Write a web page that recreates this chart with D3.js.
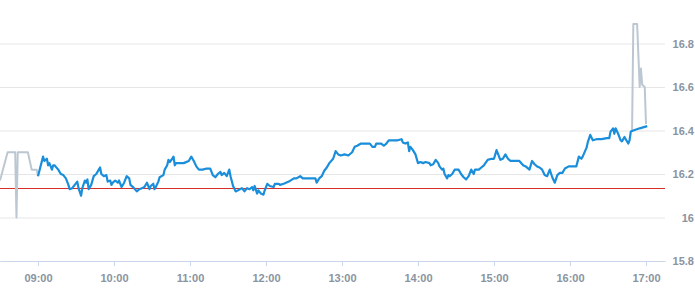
<!DOCTYPE html>
<html>
<head>
<meta charset="utf-8">
<script src="https://cdn.jsdelivr.net/npm/d3@7/dist/d3.min.js"></script>
<style>
  html, body { margin: 0; padding: 0; background: #fff; }
  svg { display: block; font-family: "Open Sans", sans-serif; }
  .axis text { fill: #8a949f; font-size: 11px; font-weight: 600; }
</style>
</head>
<body>
<svg id="chart" width="695" height="300"></svg>
<script>
/* global d3 */
// pre-market print before 09:00 (grey)
var preSeries = [
  ["08:30", 16.17], ["08:36", 16.30], ["08:42", 16.30], ["08:43", 16.00],
  ["08:44", 16.30], ["08:52", 16.30], ["08:55", 16.22], ["08:59", 16.22],
  ["09:00", 16.19]
];

// closing auction spike (grey)
var postSeries = [
  ["16:49", 16.40], ["16:50", 16.89], ["16:53", 16.89], ["16:55", 16.60],
  ["16:56", 16.685], ["16:57", 16.61], ["16:59", 16.60], ["17:00", 16.43]
];

// main session (blue)
var mainSeries = [
  ["09:00", 16.19], ["09:04", 16.28], ["09:05", 16.26], ["09:07", 16.27],
  ["09:08", 16.24], ["09:09", 16.25], ["09:11", 16.22], ["09:12", 16.24],
  ["09:13", 16.24], ["09:16", 16.22], ["09:18", 16.20], ["09:20", 16.195],
  ["09:22", 16.18], ["09:24", 16.15], ["09:25", 16.13], ["09:27", 16.135],
  ["09:29", 16.15], ["09:31", 16.165], ["09:32", 16.135], ["09:34", 16.10],
  ["09:35", 16.135], ["09:37", 16.17], ["09:38", 16.16], ["09:39", 16.175],
  ["09:40", 16.13], ["09:42", 16.15], ["09:44", 16.19], ["09:46", 16.20],
  ["09:48", 16.22], ["09:49", 16.23], ["09:50", 16.20], ["09:52", 16.19],
  ["09:54", 16.195], ["09:55", 16.165], ["09:57", 16.17], ["09:58", 16.15],
  ["09:59", 16.16], ["10:01", 16.17], ["10:03", 16.16], ["10:04", 16.17],
  ["10:06", 16.14], ["10:08", 16.16], ["10:10", 16.19], ["10:12", 16.18],
  ["10:13", 16.15], ["10:15", 16.14], ["10:18", 16.12], ["10:20", 16.13],
  ["10:22", 16.135], ["10:24", 16.14], ["10:26", 16.16], ["10:28", 16.13],
  ["10:29", 16.145], ["10:31", 16.155], ["10:32", 16.13], ["10:33", 16.14],
  ["10:35", 16.165], ["10:36", 16.185], ["10:39", 16.195], ["10:40", 16.22],
  ["10:42", 16.24], ["10:43", 16.265], ["10:44", 16.255], ["10:46", 16.27],
  ["10:47", 16.28], ["10:48", 16.24], ["10:49", 16.25], ["10:51", 16.25],
  ["10:55", 16.25], ["10:59", 16.26], ["11:01", 16.28], ["11:03", 16.26],
  ["11:05", 16.235], ["11:07", 16.22], ["11:10", 16.22], ["11:13", 16.225],
  ["11:16", 16.225], ["11:18", 16.195], ["11:20", 16.185], ["11:22", 16.20],
  ["11:24", 16.21], ["11:25", 16.195], ["11:27", 16.205], ["11:29", 16.19],
  ["11:31", 16.22], ["11:32", 16.19], ["11:34", 16.145], ["11:36", 16.12],
  ["11:38", 16.125], ["11:41", 16.135], ["11:43", 16.12], ["11:45", 16.135],
  ["11:47", 16.13], ["11:49", 16.14], ["11:50", 16.125], ["11:51", 16.145],
  ["11:53", 16.11], ["11:54", 16.125], ["11:56", 16.11], ["11:58", 16.105],
  ["11:59", 16.125], ["12:01", 16.155], ["12:03", 16.145], ["12:06", 16.14],
  ["12:07", 16.155], ["12:10", 16.155], ["12:11", 16.15], ["12:14", 16.155],
  ["12:18", 16.165], ["12:22", 16.18], ["12:24", 16.18], ["12:27", 16.19],
  ["12:29", 16.18], ["12:32", 16.18], ["12:36", 16.18], ["12:39", 16.18],
  ["12:40", 16.16], ["12:42", 16.18], ["12:44", 16.19], ["12:46", 16.215],
  ["12:48", 16.23], ["12:50", 16.25], ["12:53", 16.27], ["12:55", 16.305],
  ["12:57", 16.29], ["12:59", 16.285], ["13:02", 16.29], ["13:05", 16.285],
  ["13:08", 16.30], ["13:10", 16.325], ["13:12", 16.33], ["13:15", 16.34],
  ["13:18", 16.34], ["13:20", 16.34], ["13:22", 16.34], ["13:24", 16.325],
  ["13:26", 16.325], ["13:27", 16.34], ["13:31", 16.34], ["13:33", 16.33],
  ["13:35", 16.34], ["13:37", 16.355], ["13:40", 16.355], ["13:44", 16.355],
  ["13:47", 16.36], ["13:48", 16.345], ["13:50", 16.34], ["13:52", 16.345],
  ["13:53", 16.305], ["13:54", 16.325], ["13:56", 16.31], ["13:58", 16.29],
  ["14:00", 16.25], ["14:02", 16.255], ["14:04", 16.25], ["14:06", 16.255],
  ["14:09", 16.25], ["14:10", 16.24], ["14:12", 16.245], ["14:14", 16.265],
  ["14:16", 16.25], ["14:17", 16.235], ["14:19", 16.22], ["14:20", 16.225],
  ["14:21", 16.20], ["14:23", 16.18], ["14:24", 16.195], ["14:25", 16.19],
  ["14:27", 16.20], ["14:29", 16.22], ["14:32", 16.22], ["14:34", 16.20],
  ["14:36", 16.185], ["14:38", 16.175], ["14:40", 16.19], ["14:42", 16.22],
  ["14:44", 16.20], ["14:45", 16.22], ["14:48", 16.22], ["14:50", 16.23],
  ["14:52", 16.24], ["14:55", 16.265], ["14:58", 16.27], ["15:00", 16.27],
  ["15:02", 16.31], ["15:03", 16.295], ["15:05", 16.265], ["15:07", 16.27],
  ["15:09", 16.29], ["15:11", 16.27], ["15:13", 16.26], ["15:17", 16.26],
  ["15:20", 16.26], ["15:23", 16.24], ["15:25", 16.235], ["15:28", 16.22],
  ["15:30", 16.26], ["15:32", 16.245], ["15:34", 16.235], ["15:36", 16.23],
  ["15:38", 16.22], ["15:40", 16.195], ["15:42", 16.19], ["15:44", 16.22],
  ["15:46", 16.185], ["15:48", 16.16], ["15:50", 16.195], ["15:52", 16.205],
  ["15:54", 16.205], ["15:56", 16.225], ["15:59", 16.235], ["16:03", 16.235],
  ["16:05", 16.235], ["16:07", 16.28], ["16:09", 16.27], ["16:10", 16.28],
  ["16:13", 16.32], ["16:14", 16.345], ["16:16", 16.38], ["16:18", 16.355],
  ["16:21", 16.36], ["16:25", 16.36], ["16:29", 16.365], ["16:31", 16.365],
  ["16:32", 16.395], ["16:34", 16.41], ["16:35", 16.385], ["16:36", 16.41],
  ["16:38", 16.385], ["16:40", 16.355], ["16:41", 16.35], ["16:43", 16.37],
  ["16:44", 16.36], ["16:46", 16.34], ["16:47", 16.355], ["16:48", 16.395],
  ["16:50", 16.40], ["16:55", 16.41], ["17:01", 16.42]
];

var prevClose = 16.135;
var timeRange = ["08:30", "17:15"];
var valueRange = [15.8, 17.0];
var yTickValues = [15.8, 16, 16.2, 16.4, 16.6, 16.8];

var width = 695,
    height = 300,
    plotW = 665,
    plotH = 261;

var parseTime = d3.timeParse("%H:%M");

var x = d3.scaleTime()
    .domain(timeRange.map(parseTime))
    .range([0, plotW]);

var y = d3.scaleLinear()
    .domain(valueRange)
    .range([plotH, 0]);

var svg = d3.select("#chart");

// Horizontal grid + right-side labels.
var yAxis = svg.append("g")
    .attr("class", "y axis")
    .attr("transform", "translate(" + plotW + ",0)")
    .call(d3.axisRight(y)
      .tickValues(yTickValues)
      .tickSize(-plotW)
      .tickPadding(0)
      .tickFormat(d3.format("~g")));
yAxis.select(".domain").remove();
yAxis.selectAll(".tick line")
    .attr("stroke", "#e6e6e6");
yAxis.selectAll(".tick text")
    .attr("x", width - plotW - 1)
    .attr("text-anchor", "end");

// Bottom axis.
var xAxis = svg.append("g")
    .attr("class", "x axis")
    .attr("transform", "translate(0," + plotH + ")")
    .call(d3.axisBottom(x)
      .ticks(d3.timeHour.every(1))
      .tickSize(5)
      .tickSizeOuter(0)
      .tickPadding(6)
      .tickFormat(d3.timeFormat("%H:%M")));
xAxis.select(".domain").attr("stroke", "#ccd6eb");
xAxis.selectAll(".tick line").attr("stroke", "#ccd6eb");
xAxis.selectAll(".tick text").attr("dy", "0.9em");

// Previous close reference line, snapped to the pixel grid.
var yRef = Math.round(y(prevClose)) + 0.5;
svg.append("line")
    .attr("x1", 0)
    .attr("x2", plotW)
    .attr("y1", yRef)
    .attr("y2", yRef)
    .attr("stroke", "#d62f2a")
    .attr("stroke-width", 1);

var line = d3.line()
    .x(function(d) { return x(parseTime(d[0])); })
    .y(function(d) { return y(d[1]); });

svg.selectAll(".grey")
    .data([preSeries, postSeries])
  .enter().append("path")
    .attr("class", "grey")
    .attr("d", line)
    .attr("fill", "none")
    .attr("stroke", "#bcc7d1")
    .attr("stroke-width", 2)
    .attr("stroke-linejoin", "round");

svg.append("path")
    .datum(mainSeries)
    .attr("d", line)
    .attr("fill", "none")
    .attr("stroke", "#1a8edb")
    .attr("stroke-width", 2.2)
    .attr("stroke-linejoin", "round");
</script>
</body>
</html>
